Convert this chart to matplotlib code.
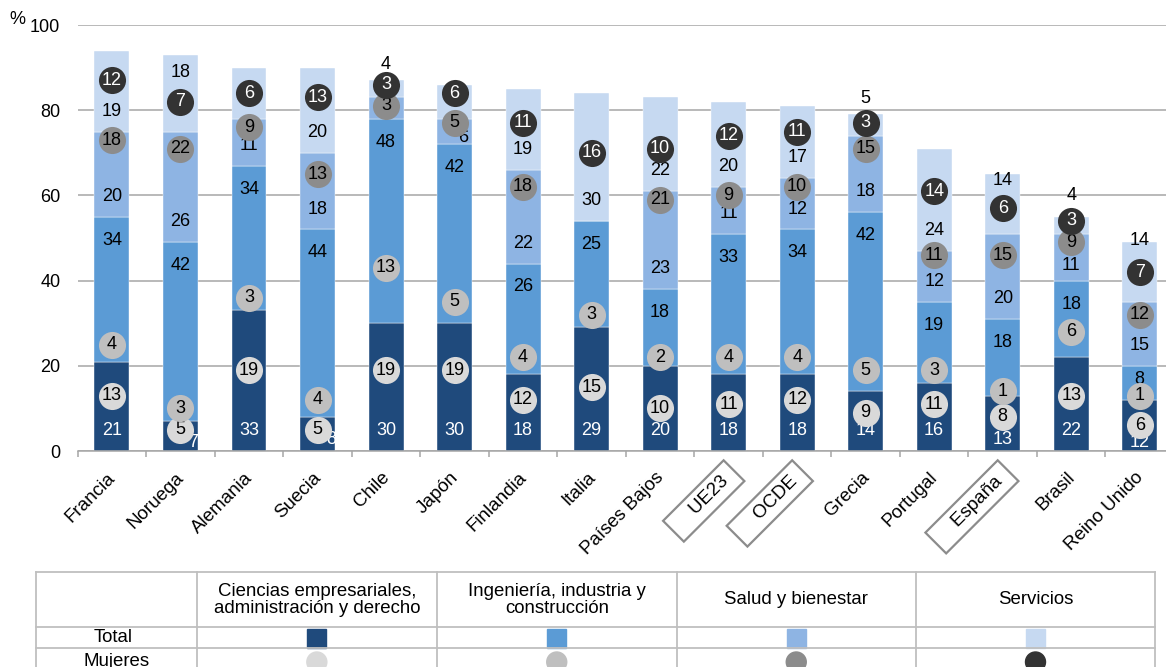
# -*- coding: utf-8 -*-
"""Titulados por campo de estudio: total (barras apiladas) y mujeres (círculos)."""
import numpy as np
import matplotlib
matplotlib.use("Agg")
import matplotlib.pyplot as plt
from matplotlib.patches import Rectangle, Circle
from matplotlib.transforms import ScaledTranslation

plt.rcParams["font.family"] = ["Liberation Sans", "DejaVu Sans"]

# ---------- datos ----------
paises = ["Francia", "Noruega", "Alemania", "Suecia", "Chile", "Japón",
          "Finlandia", "Italia", "Países Bajos", "UE23", "OCDE", "Grecia",
          "Portugal", "España", "Brasil", "Reino Unido"]
destacados = ["UE23", "OCDE", "España"]

total_ciencias = [21, 7, 33, 8, 30, 30, 18, 29, 20, 18, 18, 14, 16, 13, 22, 12]
total_ingenieria = [34, 42, 34, 44, 48, 42, 26, 25, 18, 33, 34, 42, 19, 18, 18, 8]
total_salud = [20, 26, 11, 18, 5, 6, 22, 0, 23, 11, 12, 18, 12, 20, 11, 15]
total_servicios = [19, 18, 12, 20, 4, 8, 19, 30, 22, 20, 17, 5, 24, 14, 4, 14]

mujeres_ciencias = [13, 5, 19, 5, 19, 19, 12, 15, 10, 11, 12, 9, 11, 8, 13, 6]
mujeres_ingenieria = [4, 3, 3, 4, 13, 5, 4, 3, 2, 4, 4, 5, 3, 1, 6, 1]
mujeres_salud = [18, 22, 9, 13, 3, 5, 18, np.nan, 21, 9, 10, 15, 11, 15, 9, 12]
mujeres_servicios = [12, 7, 6, 13, 3, 6, 11, 16, 10, 12, 11, 3, 14, 6, 3, 7]

campos = ["Ciencias empresariales,\nadministración y derecho",
          "Ingeniería, industria y\nconstrucción",
          "Salud y bienestar", "Servicios"]

# ---------- estilo ----------
COL_BAR = ["#1f4a7c", "#5b9bd5", "#8eb4e3", "#c6d9f1"]
COL_DOT = ["#d9d9d9", "#bfbfbf", "#8c8c8c", "#333333"]
COL_DOT_TXT = ["black", "black", "black", "white"]
COL_LBL = ["white", "black", "black", "black"]
GRID = "#a6a6a6"
FS = 13

# posición de etiquetas que no siguen la regla general: (dx, y)
ajuste_etiqueta = {
    ("Noruega", 0): (0.18, 2.0),
    ("Suecia", 0): (0.2, 2.6),
    ("Noruega", 3): (0, 88.8),
    ("Alemania", 3): (0, 84.3),
    ("Chile", 2): (0, 80.3),
    ("Chile", 3): (0, 90.8),
    ("Japón", 2): (0.12, 73.6),
    ("Japón", 3): (0, 84.5),
    ("Grecia", 3): (0, 82.8),
    ("España", 0): (0, 2.6),
    ("España", 3): (0, 63.6),
    ("Brasil", 2): (0, 43.5),
    ("Brasil", 3): (0, 59.9),
    ("Reino Unido", 0): (0, 1.9),
    ("Reino Unido", 1): (0, 16.7),
    ("Reino Unido", 3): (0, 49.5),
}

totales = np.array([total_ciencias, total_ingenieria, total_salud, total_servicios], float)
mujeres = np.array([mujeres_ciencias, mujeres_ingenieria, mujeres_salud, mujeres_servicios], float)
base = np.vstack([np.zeros(len(paises)), np.cumsum(totales, axis=0)[:-1]])
x = np.arange(len(paises))

W, H = 1166, 667
fig = plt.figure(figsize=(W / 100, H / 100), dpi=100)
ax = fig.add_axes([77.7 / W, (H - 451) / H, (1174 - 77.7) / W, 426 / H])

for k in range(4):
    ax.bar(x, totales[k], bottom=base[k], width=0.51, color=COL_BAR[k],
           edgecolor="white", linewidth=0.3, zorder=2)

# etiquetas del total
for i, p in enumerate(paises):
    for k in range(4):
        v = totales[k, i]
        if v == 0:
            continue
        if k == 1:
            y = base[k, i] + v - 5.5
        else:
            y = base[k, i] + 4.8
        dx, y = ajuste_etiqueta.get((p, k), (0, y))
        color = COL_LBL[k]
        if y > base[k, i] + v:
            color = "black"
        ax.text(i + dx, y, f"{v:.0f}", ha="center", va="center", fontsize=FS,
                color=color, zorder=3)

# círculos de mujeres
for k in range(4):
    yc = base[k] + mujeres[k]
    ax.plot(x, yc, "o", ms=19.5, mfc=COL_DOT[k], mec="none", ls="none",
            zorder=4 + 2 * k)
    for i in range(len(paises)):
        if np.isnan(mujeres[k, i]):
            continue
        ax.text(i, yc[i], f"{mujeres[k, i]:.0f}", ha="center", va="center",
                fontsize=FS, color=COL_DOT_TXT[k], zorder=5 + 2 * k)

ax.set_xlim(-0.5, len(paises) - 0.5)
ax.set_ylim(0, 100)
ax.set_yticks(range(0, 101, 20))
ax.tick_params(axis="y", length=0, pad=12.5, labelsize=FS)
ax.grid(axis="y", color=GRID, linewidth=1.1, zorder=0)
ax.set_axisbelow(True)
for s in ["left", "right", "top"]:
    ax.spines[s].set_visible(False)
ax.spines["bottom"].set_color(GRID)
ax.spines["bottom"].set_linewidth(1.1)

etiquetas = [("    " + p + " ") if p in destacados else p for p in paises]
ax.set_xticks(x, etiquetas)
ax.set_xticks(np.arange(-0.5, len(paises)), minor=True)
ax.tick_params(axis="x", which="major", length=0, pad=13)
ax.tick_params(axis="x", which="minor", length=4, width=1.1, color=GRID)
desplaza = ScaledTranslation(-5 / 100, 0, fig.dpi_scale_trans)
for t, p in zip(ax.get_xticklabels(), paises):
    t.set_rotation(45)
    t.set_ha("right")
    t.set_va("top")
    t.set_rotation_mode("anchor")
    t.set_fontsize(13.5)
    t.set_transform(t.get_transform() + desplaza)
    if p in destacados:
        t.set_bbox(dict(boxstyle="square,pad=0.33", fc="white", ec="#8c8c8c", lw=1.6))

fig.text(17.5 / W, 1 - 19 / H, "%", ha="center", va="center", fontsize=FS)

# ---------- tabla de leyenda ----------
tab = fig.add_axes([0, 0, 1, 1])
tab.set_xlim(0, W)
tab.set_ylim(H, 0)
tab.axis("off")
tab.patch.set_alpha(0)

xs = [35.7, 196.7, 437, 676.5, 916, 1155]
y_top, y_head, y_tot, y_end = 572.3, 627.3, 648.3, 680
LC = "#bfbfbf"
for yy in (y_top, y_head, y_tot):
    tab.plot([xs[0], xs[-1]], [yy, yy], color=LC, lw=1.3, clip_on=False)
for xx in xs:
    tab.plot([xx, xx], [y_top, y_end], color=LC, lw=1.3, clip_on=False)

FT = 13.4
centros = [(xs[j] + xs[j + 1]) / 2 for j in range(len(xs) - 1)]
tab.text(centros[0] - 3, 638, "Total", ha="center", va="center", fontsize=FT)
tab.text(centros[0], 662, "Mujeres", ha="center", va="center", fontsize=FT)
for k, nombre in enumerate(campos):
    cx = centros[k + 1]
    tab.text(cx, 600, nombre, ha="center", va="center", fontsize=FT,
             linespacing=1.0)
    tab.add_patch(Rectangle((cx - 9.5, 629), 19, 19, color=COL_BAR[k]))
    tab.add_patch(Circle((cx, 662), 10, color=COL_DOT[k]))

fig.savefig("out.png", dpi=100)
